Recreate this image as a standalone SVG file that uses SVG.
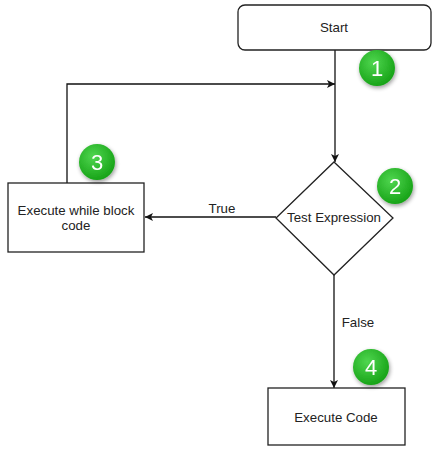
<svg xmlns="http://www.w3.org/2000/svg" width="439" height="450" viewBox="0 0 439 450">
<style>
.box{fill:#fff;stroke:#222;stroke-width:1.3}
.lbl{font-family:"Liberation Sans",Arial,sans-serif;font-size:13.3px;fill:#222;text-anchor:middle}
.edge{fill:none;stroke:#111;stroke-width:1.3}
.num{font-family:"Liberation Sans",Arial,sans-serif;font-size:22px;fill:#fff;text-anchor:middle}
</style>
<defs>
<marker id="ah" viewBox="0 0 10 10" refX="10" refY="5" markerWidth="8" markerHeight="8" orient="auto" markerUnits="userSpaceOnUse">
<path d="M0,0 L10,5 L0,10 L2.5,5 Z" fill="#111"/>
</marker>
<radialGradient id="g" cx="0.4" cy="0.35" r="0.7">
<stop offset="0" stop-color="#4fd64f"/>
<stop offset="1" stop-color="#14a014"/>
</radialGradient>
<filter id="sh" x="-50%" y="-50%" width="200%" height="200%">
<feGaussianBlur in="SourceAlpha" stdDeviation="2"/>
<feOffset dx="1" dy="2" result="b"/>
<feComponentTransfer><feFuncA type="linear" slope="0.4"/></feComponentTransfer>
<feMerge><feMergeNode/><feMergeNode in="SourceGraphic"/></feMerge>
</filter>
</defs>
<rect width="439" height="450" fill="#fff"/>
<g id="connectors">
<path class="edge" d="M335,50 L335,162" marker-end="url(#ah)"/>
<path class="edge" d="M67,183 L67,84 L335,84" marker-end="url(#ah)"/>
<path class="edge" d="M276,217 L145,217" marker-end="url(#ah)"/>
<text class="lbl" x="222" y="213">True</text>
<path class="edge" d="M334,275 L334,388" marker-end="url(#ah)"/>
<text class="lbl" x="358" y="327">False</text>
</g>
<g id="start">
<rect class="box" x="238" y="5" width="193" height="45" rx="7"/>
<text class="lbl" x="334" y="32">Start</text>
</g>
<g id="test">
<polygon class="box" points="334,162 393,218 334,275 276,218"/>
<text class="lbl" x="334" y="222">Test Expression</text>
</g>
<g id="whileblock">
<rect class="box" x="8" y="183" width="136" height="69"/>
<text class="lbl" x="76" y="215">Execute while block</text>
<text class="lbl" x="76" y="230">code</text>
</g>
<g id="execcode">
<rect class="box" x="268" y="388" width="137" height="57"/>
<text class="lbl" x="336" y="422">Execute Code</text>
</g>
<g id="badge1" filter="url(#sh)">
<circle cx="377" cy="68" r="18" fill="url(#g)"/>
<text class="num" x="377" y="76">1</text>
</g>
<g id="badge2" filter="url(#sh)">
<circle cx="395" cy="186" r="18" fill="url(#g)"/>
<text class="num" x="395" y="194">2</text>
</g>
<g id="badge3" filter="url(#sh)">
<circle cx="97" cy="162" r="18" fill="url(#g)"/>
<text class="num" x="97" y="170">3</text>
</g>
<g id="badge4" filter="url(#sh)">
<circle cx="371" cy="367" r="18" fill="url(#g)"/>
<text class="num" x="371" y="375">4</text>
</g>
</svg>
